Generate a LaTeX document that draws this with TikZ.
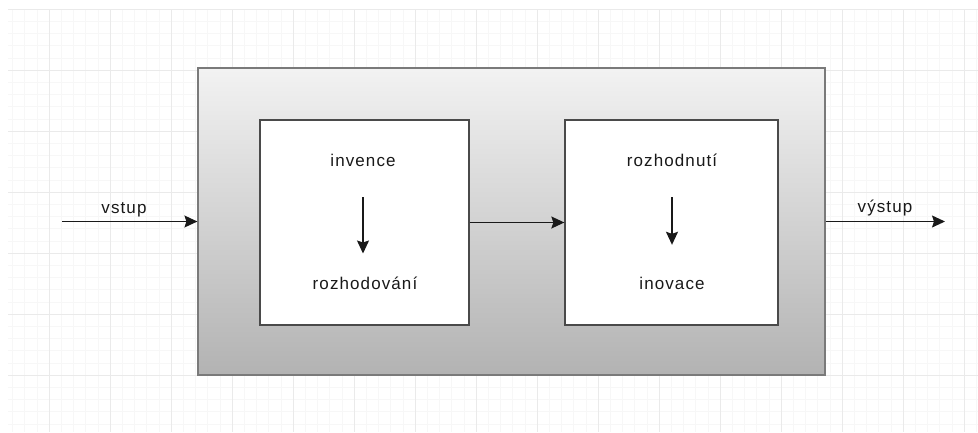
\documentclass[tikz,border=0pt]{standalone}
\usepackage{fontspec}
\setmainfont{Liberation Sans}
\usetikzlibrary{arrows.meta}
\definecolor{gridmajor}{HTML}{EAEAEA}
\definecolor{gridminor}{HTML}{F7F7F7}
\definecolor{outerline}{HTML}{7A7A7A}
\definecolor{innerline}{HTML}{4A4A4A}

\begin{document}
\begin{tikzpicture}[x=1pt,y=-1pt,
  outerbox/.style={draw=outerline,line width=1.2pt,top color=black!5,bottom color=black!30,minimum width=627pt,minimum height=307pt,inner sep=0pt},
  innerbox/.style={draw=innerline,line width=1.3pt,fill=white,minimum height=205pt,inner sep=0pt},
  lbl/.style={font=\fontsize{17}{20}\selectfont\addfontfeature{LetterSpace=6.5},text=black!90,inner sep=0pt,text height=13pt,text depth=4pt},
  arr/.style={-{Stealth[length=13pt,width=12pt,inset=2pt]},line width=1.3pt,black!90}]
\useasboundingbox (0,0) rectangle (978,432);

% grid in the background
\begin{scope}
\clip (8,9) rectangle (978,432);
\foreach \i in {0,...,80} \draw[gridminor,line width=0.6pt] ({0.2+12.2*\i},9) -- ++(0,423);
\foreach \i in {0,...,35} \draw[gridminor,line width=0.6pt] (8,{9+12.2*\i}) -- ++(970,0);
\foreach \i in {0,...,16} \draw[gridmajor,line width=0.8pt] ({49+61*\i},9) -- ++(0,423);
\foreach \i in {0,...,7} \draw[gridmajor,line width=0.8pt] (8,{9+61*\i}) -- ++(970,0);
\end{scope}

\node[outerbox] (sys) at (511.5,221.5) {};
\node[innerbox,minimum width=209pt] (left) at (364.5,222.5) {};
\node[innerbox,minimum width=213pt] (right) at (671.5,222.5) {};

\node[lbl] (inv) at (363,162) {invence};
\node[lbl] (roz) at (365,285) {rozhodování};
\node[lbl] (rozn) at (672,162) {rozhodnutí};
\node[lbl] (ino) at (672,285) {inovace};
\node[lbl] (vst) at (124,209) {vstup};
\node[lbl] (vyst) at (885,208) {výstup};

\coordinate (in) at (62,221.5);
\coordinate (out) at (945,221.5);

\draw[arr] (in) -- (sys.west);
\draw[arr] (left.east) -- (right.west);
\draw[arr] (sys.east) -- (out);
\draw[arr,shorten <=26.5pt,shorten >=31.5pt] (inv) -- (inv|-roz.center);
\draw[arr,shorten <=26.5pt,shorten >=31.5pt] (rozn) -- (ino);
\end{tikzpicture}
\end{document}
